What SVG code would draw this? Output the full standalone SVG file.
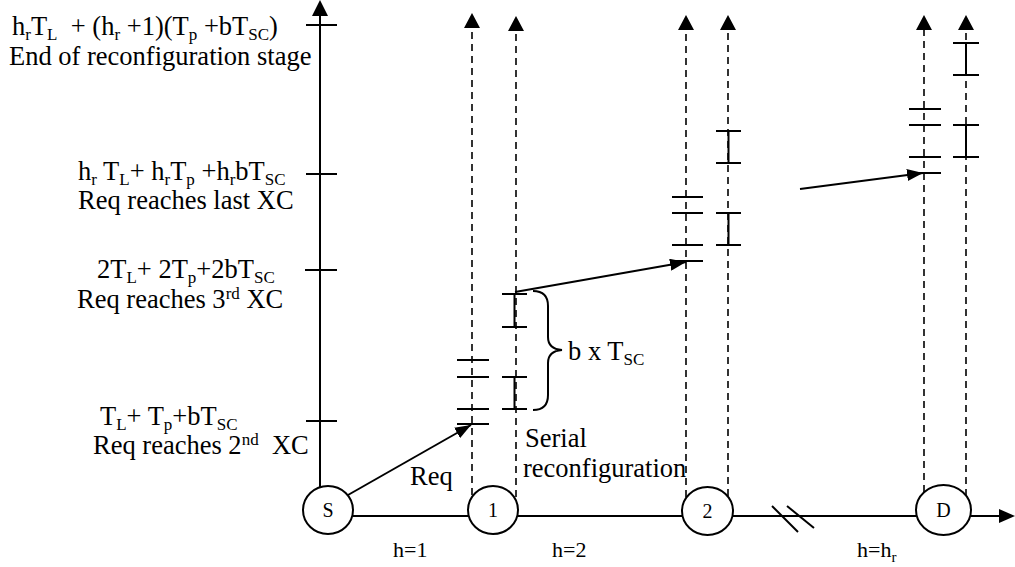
<svg xmlns="http://www.w3.org/2000/svg" width="1015" height="567" viewBox="0 0 1015 567">
<style>
  .t { font-family: "Liberation Serif", "Times New Roman", serif; font-size: 26.5px; fill: #000; white-space: pre; }
  .s { font-size: 17px; }
  .h { font-family: "Liberation Serif", "Times New Roman", serif; font-size: 22px; fill: #000; }
  .n { font-family: "Liberation Serif", "Times New Roman", serif; font-size: 20px; fill: #000; text-anchor: middle; }
  .ln { stroke: #000; stroke-width: 2; fill: none; }
  .dash { stroke: #000; stroke-width: 1.6; fill: none; stroke-dasharray: 7 5; }
  .node { fill: #fff; stroke: #000; stroke-width: 2; }
  .head { fill: #000; stroke: none; }
</style>
<defs>
  <marker id="ah" markerUnits="userSpaceOnUse" viewBox="0 0 16 12" refX="16" refY="6" markerWidth="16" markerHeight="12" orient="auto">
    <path d="M0,0 L16,6 L0,12 z" fill="#000"/>
  </marker>
</defs>

<g id="connectors">
  <!-- main time axis -->
  <line class="ln" x1="320" y1="14" x2="320" y2="487"/>
  <polygon class="head" points="320,0 312,16 328,16"/>
  <line class="ln" x1="306" y1="25" x2="337" y2="25"/>
  <line class="ln" x1="306" y1="174" x2="337" y2="174"/>
  <line class="ln" x1="305" y1="270" x2="337" y2="270"/>
  <line class="ln" x1="306" y1="421" x2="337" y2="421"/>

  <!-- horizontal axis -->
  <line class="ln" x1="353" y1="516" x2="468" y2="516"/>
  <line class="ln" x1="518" y1="516" x2="682" y2="516"/>
  <line class="ln" x1="733" y1="516" x2="916" y2="516"/>
  <line class="ln" x1="971" y1="516" x2="1001" y2="516"/>
  <polygon class="head" points="1015,516 999,509 999,523"/>
  <!-- break marks -->
  <line class="ln" x1="772" y1="506" x2="798" y2="532"/>
  <line class="ln" x1="787" y1="506" x2="814" y2="528"/>

  <!-- dashed time lines -->
  <line class="dash" x1="472" y1="495" x2="472" y2="28"/>
  <polygon class="head" points="472,13 464,28 480,28"/>
  <line class="dash" x1="516" y1="497" x2="516" y2="31"/>
  <polygon class="head" points="516,16 508,31 524,31"/>

  <line class="dash" x1="686" y1="497" x2="686" y2="30"/>
  <polygon class="head" points="686,15 678,30 694,30"/>
  <line class="dash" x1="728" y1="496" x2="728" y2="30"/>
  <polygon class="head" points="728,15 720,30 736,30"/>

  <line class="dash" x1="924" y1="492" x2="924" y2="30"/>
  <polygon class="head" points="924,15 916,30 932,30"/>
  <line class="dash" x1="966" y1="496" x2="966" y2="30"/>
  <polygon class="head" points="966,15 958,30 974,30"/>

  <!-- node 1 ticks -->
  <line class="ln" x1="457" y1="360" x2="489" y2="360"/>
  <line class="ln" x1="457" y1="377" x2="489" y2="377"/>
  <line class="ln" x1="457" y1="409" x2="489" y2="409"/>
  <line class="ln" x1="457" y1="424" x2="489" y2="424"/>
  <path class="ln" d="M502,294 H527 M514.5,294 V327 M502,327 H527"/>
  <path class="ln" d="M502,377 H527 M514.5,377 V409 M502,409 H527"/>

  <!-- node 2 ticks -->
  <line class="ln" x1="672" y1="197" x2="703" y2="197"/>
  <line class="ln" x1="672" y1="213" x2="703" y2="213"/>
  <line class="ln" x1="672" y1="245" x2="703" y2="245"/>
  <line class="ln" x1="672" y1="261" x2="703" y2="261"/>
  <path class="ln" d="M716,131 H741 M728.5,131 V163 M716,163 H741"/>
  <path class="ln" d="M716,213 H741 M728.5,213 V245 M716,245 H741"/>

  <!-- node D ticks -->
  <line class="ln" x1="909" y1="109" x2="941" y2="109"/>
  <line class="ln" x1="909" y1="125" x2="941" y2="125"/>
  <line class="ln" x1="909" y1="157" x2="941" y2="157"/>
  <line class="ln" x1="909" y1="173" x2="941" y2="173"/>
  <path class="ln" d="M953,43 H979 M966,43 V75 M953,75 H979"/>
  <path class="ln" d="M953,125 H979 M966,125 V157 M953,157 H979"/>

  <!-- request arrows -->
  <line class="ln" x1="348" y1="495" x2="471" y2="425" marker-end="url(#ah)"/>
  <line class="ln" x1="515" y1="292" x2="686" y2="262" marker-end="url(#ah)"/>
  <line class="ln" x1="800" y1="189" x2="923" y2="173" marker-end="url(#ah)"/>

  <!-- brace -->
  <path class="ln" d="M533,291 Q548,291 548,306 L548,337 Q548,349 562,350 Q548,351 548,363 L548,395 Q548,410 533,410"/>
</g>

<g id="node-S">
  <ellipse class="node" cx="328" cy="510" rx="25" ry="24"/>
  <text class="n" x="328" y="517">S</text>
</g>
<g id="node-1">
  <ellipse class="node" cx="493" cy="510" rx="25" ry="24"/>
  <text class="n" x="493" y="517">1</text>
</g>
<g id="node-2">
  <ellipse class="node" cx="707.5" cy="511" rx="25.5" ry="24"/>
  <text class="n" x="707.5" y="518">2</text>
</g>
<g id="node-D">
  <ellipse class="node" cx="943.5" cy="510" rx="27.5" ry="25"/>
  <text class="n" x="943.5" y="517">D</text>
</g>

<g id="labels">
  <text class="t" x="12" y="35">h<tspan class="s" dy="5">r</tspan><tspan dy="-5">T</tspan><tspan class="s" dy="5">L</tspan><tspan dy="-5">  + (h</tspan><tspan class="s" dy="5">r</tspan><tspan dy="-5"> +1)(T</tspan><tspan class="s" dy="5">p</tspan><tspan dy="-5"> +bT</tspan><tspan class="s" dy="5">SC</tspan><tspan dy="-5">)</tspan></text>
  <text class="t" x="9" y="65">End of reconfiguration stage</text>

  <text class="t" x="78" y="180">h<tspan class="s" dy="5">r</tspan><tspan dy="-5"> T</tspan><tspan class="s" dy="5">L</tspan><tspan dy="-5">+ h</tspan><tspan class="s" dy="5">r</tspan><tspan dy="-5">T</tspan><tspan class="s" dy="5">p</tspan><tspan dy="-5"> +h</tspan><tspan class="s" dy="5">r</tspan><tspan dy="-5">bT</tspan><tspan class="s" dy="5">SC</tspan></text>
  <text class="t" x="78" y="209">Req reaches last XC</text>

  <text class="t" x="97" y="278">2T<tspan class="s" dy="5">L</tspan><tspan dy="-5">+ 2T</tspan><tspan class="s" dy="5">p</tspan><tspan dy="-5">+2bT</tspan><tspan class="s" dy="5">SC</tspan></text>
  <text class="t" x="77" y="308">Req reaches 3<tspan class="s" dy="-9">rd</tspan><tspan dy="9"> XC</tspan></text>

  <text class="t" x="100" y="425">T<tspan class="s" dy="5">L</tspan><tspan dy="-5">+ T</tspan><tspan class="s" dy="5">p</tspan><tspan dy="-5">+bT</tspan><tspan class="s" dy="5">SC</tspan></text>
  <text class="t" x="93" y="454">Req reaches 2<tspan class="s" dy="-9">nd</tspan><tspan dy="9">  XC</tspan></text>

  <text class="t" x="410" y="485">Req</text>
  <text class="t" x="525" y="447">Serial</text>
  <text class="t" x="523" y="477">reconfiguration</text>
  <text class="t" x="568" y="360">b x T<tspan class="s" dy="5">SC</tspan></text>

  <text class="h" x="393" y="557">h=1</text>
  <text class="h" x="552" y="557">h=2</text>
  <text class="h" x="857" y="557">h=h<tspan font-size="15" dy="5">r</tspan></text>
</g>
</svg>
